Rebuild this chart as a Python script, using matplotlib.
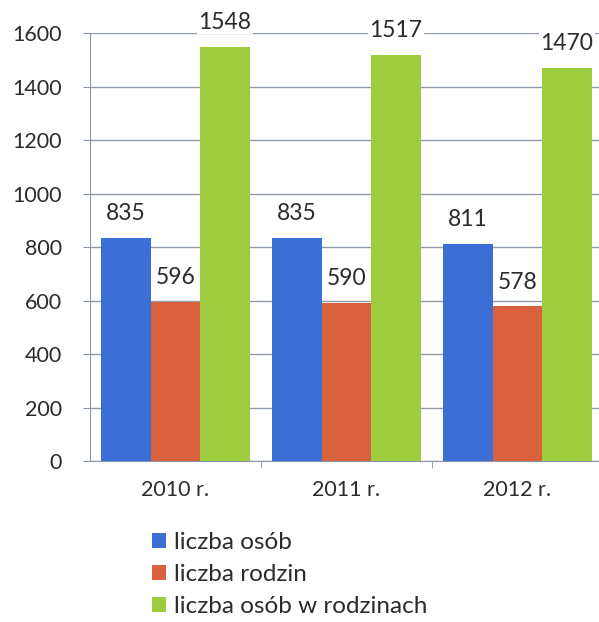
import matplotlib.pyplot as plt
import numpy as np

plt.rcParams['font.family'] = ['Lato', 'DejaVu Sans']

years = ['2010 r.', '2011 r.', '2012 r.']
liczba_osob = [835, 835, 811]
liczba_rodzin = [596, 590, 578]
osob_w_rodzinach = [1548, 1517, 1470]

series = [
    ('liczba osób', liczba_osob, '#3b6fd6'),
    ('liczba rodzin', liczba_rodzin, '#d9613e'),
    ('liczba osób w rodzinach', osob_w_rodzinach, '#9dcd3e'),
]

fig = plt.figure(figsize=(5.99, 6.22), dpi=100)
ax = fig.add_axes([0.150, 0.2588, 0.8564, 0.688])

x = np.arange(len(years))
w = 0.29
for i, (name, vals, col) in enumerate(series):
    pos = x + (i - 1) * w
    ax.bar(pos, vals, w, color=col, label=name, zorder=3)
    for p, v in zip(pos, vals):
        ax.annotate(str(v), (p, v), xytext=(0, 10), textcoords='offset points',
                    ha='center', va='bottom', fontsize=16.5, color='#2b2b2b',
                    bbox=dict(facecolor='white', edgecolor='none', pad=1),
                    zorder=4)

ax.set_xlim(-0.5, 2.5)
ax.set_ylim(0, 1600)
ax.set_yticks(range(0, 1601, 200))
ax.set_xticks(x)
ax.set_xticklabels(years)
ax.set_xticks([0.5, 1.5], minor=True)
ax.tick_params(axis='x', which='major', length=0, pad=14, labelsize=15.5, labelcolor='#2b2b2b')
ax.tick_params(axis='x', which='minor', length=5, color='#8a96a8')
ax.tick_params(axis='y', length=5, color='#8a96a8', labelsize=15.5, labelcolor='#2b2b2b', pad=15)
ax.grid(axis='y', color='#8f9aab', linewidth=1, zorder=0)
for s in ['top', 'right']:
    ax.spines[s].set_visible(False)
ax.spines['left'].set_color('#8a96a8')
ax.spines['bottom'].set_color('#8a96a8')

fig.legend(loc='upper left', bbox_to_anchor=(0.237, 0.16), frameon=False,
           fontsize=17.5, handlelength=0.6, handleheight=0.6, handletextpad=0.3,
           labelspacing=0.45, labelcolor='#2b2b2b', borderaxespad=0)

fig.savefig('out.png', dpi=100)
